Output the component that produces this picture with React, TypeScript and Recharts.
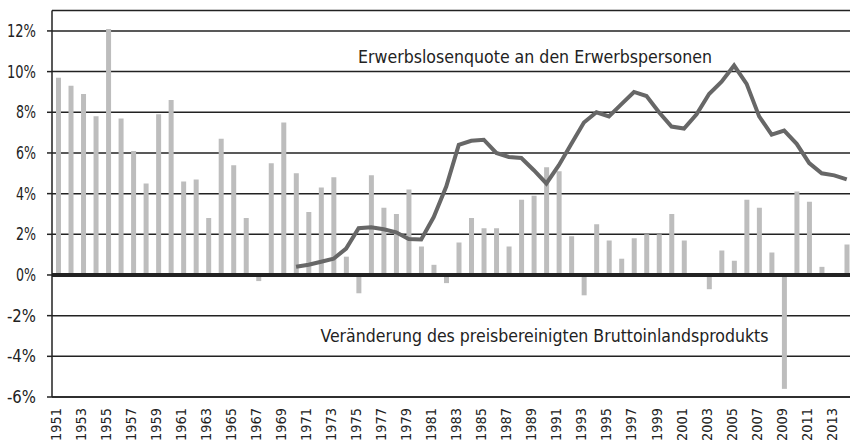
import { Bar, CartesianGrid, ComposedChart, Line, ReferenceLine, XAxis, YAxis } from "recharts";

// Years 1951–2014
const years: string[] = [
  "1951", "1952", "1953", "1954", "1955", "1956", "1957", "1958", "1959", "1960",
  "1961", "1962", "1963", "1964", "1965", "1966", "1967", "1968", "1969", "1970",
  "1971", "1972", "1973", "1974", "1975", "1976", "1977", "1978", "1979", "1980",
  "1981", "1982", "1983", "1984", "1985", "1986", "1987", "1988", "1989", "1990",
  "1991", "1992", "1993", "1994", "1995", "1996", "1997", "1998", "1999", "2000",
  "2001", "2002", "2003", "2004", "2005", "2006", "2007", "2008", "2009", "2010",
  "2011", "2012", "2013", "2014",
];

// Veränderung des preisbereinigten BIP (%)
const gdpChange: number[] = [
  9.7, 9.3, 8.9, 7.8, 12.1, 7.7, 6.1, 4.5, 7.9, 8.6,
  4.6, 4.7, 2.8, 6.7, 5.4, 2.8, -0.3, 5.5, 7.5, 5.0,
  3.1, 4.3, 4.8, 0.9, -0.9, 4.9, 3.3, 3.0, 4.2, 1.4,
  0.5, -0.4, 1.6, 2.8, 2.3, 2.3, 1.4, 3.7, 3.9, 5.3,
  5.1, 1.9, -1.0, 2.5, 1.7, 0.8, 1.8, 2.0, 2.0, 3.0,
  1.7, 0.0, -0.7, 1.2, 0.7, 3.7, 3.3, 1.1, -5.6, 4.1,
  3.6, 0.4, 0.1, 1.5,
];

// Erwerbslosenquote (%), erst ab 1970
const unemployment: (number | null)[] = [
  null, null, null, null, null, null, null, null, null, null,
  null, null, null, null, null, null, null, null, null, 0.4,
  0.5, 0.65, 0.8, 1.3, 2.3, 2.35, 2.25, 2.1, 1.77, 1.75,
  2.85, 4.35, 6.4, 6.6, 6.65, 6.0, 5.8, 5.75, 5.15, 4.5,
  5.4, 6.45, 7.5, 8.0, 7.8, 8.4, 9.0, 8.8, 8.0, 7.3,
  7.2, 7.9, 8.9, 9.5, 10.3, 9.4, 7.8, 6.9, 7.1, 6.45,
  5.5, 5.0, 4.9, 4.7,
];

const yTicks: number[] = [-6, -4, -2, 0, 2, 4, 6, 8, 10, 12];

const ueLabel = "Erwerbslosenquote an den Erwerbspersonen";
const gdpLabel = "Veränderung des preisbereinigten Bruttoinlandsprodukts";

const data = years.map((year, i) => ({
  year,
  gdp: gdpChange[i],
  ue: unemployment[i],
}));

const FONT = '"DejaVu Sans Condensed", "Liberation Sans", sans-serif';
const INK = "#222";

function YearTick(props: any) {
  const { x, y, payload } = props;
  const ax = x + 2.5;
  const ay = y;
  return (
    <text
      x={ax}
      y={ay}
      transform={`rotate(-90, ${ax}, ${ay})`}
      textAnchor="end"
      fontFamily={FONT}
      fontSize={13.5}
      textLength={33}
      lengthAdjust="spacingAndGlyphs"
      fill={INK}
    >
      {payload.value}
    </text>
  );
}

function YTick(props: any) {
  const { y, payload } = props;
  const label = `${payload.value}%`;
  return (
    <text
      x={36}
      y={y + 6}
      textAnchor="end"
      fontFamily={FONT}
      fontSize={17}
      textLength={label.length === 3 ? 29 : label.length === 2 ? 20 : 31}
      lengthAdjust="spacingAndGlyphs"
      fill={INK}
    >
      {label}
    </text>
  );
}

export default function App() {
  return (
    <div
      style={{
        position: "absolute",
        left: 0,
        top: 0,
        width: 850,
        height: 441,
        overflow: "hidden",
        background: "#fff",
      }}
    >
      <ComposedChart
        width={853}
        height={441}
        data={data}
        margin={{ top: 10.6, right: 0, bottom: 0, left: 0 }}
        barCategoryGap={0}
      >
        <CartesianGrid vertical={false} stroke={INK} strokeWidth={1.5} />
        <XAxis
          dataKey="year"
          interval={1}
          height={44}
          tickLine={false}
          tickSize={0}
          tickMargin={11}
          axisLine={{ stroke: INK, strokeWidth: 1.5 }}
          tick={<YearTick />}
        />
        <YAxis
          width={52}
          domain={[-6, 13]}
          ticks={yTicks}
          allowDataOverflow
          tickSize={5}
          tickLine={{ stroke: INK, strokeWidth: 1.5 }}
          axisLine={{ stroke: INK, strokeWidth: 1.5 }}
          tick={<YTick />}
        />
        <Bar dataKey="gdp" fill="#bdbdbd" barSize={5} isAnimationActive={false} />
        <ReferenceLine y={0} stroke={INK} strokeWidth={4} />
        <Line
          dataKey="ue"
          type="linear"
          stroke="#676767"
          strokeWidth={4}
          dot={false}
          connectNulls={false}
          isAnimationActive={false}
        />
      </ComposedChart>
      <svg
        width={850}
        height={441}
        style={{ position: "absolute", left: 0, top: 0, pointerEvents: "none" }}
      >
        <text
          x={358}
          y={62.5}
          fontFamily={FONT}
          fontSize={18}
          fill={INK}
          textLength={354}
          lengthAdjust="spacingAndGlyphs"
        >
          {ueLabel}
        </text>
        <text
          x={320.5}
          y={341.5}
          fontFamily={FONT}
          fontSize={18}
          fill={INK}
          textLength={448}
          lengthAdjust="spacingAndGlyphs"
        >
          {gdpLabel}
        </text>
      </svg>
    </div>
  );
}
